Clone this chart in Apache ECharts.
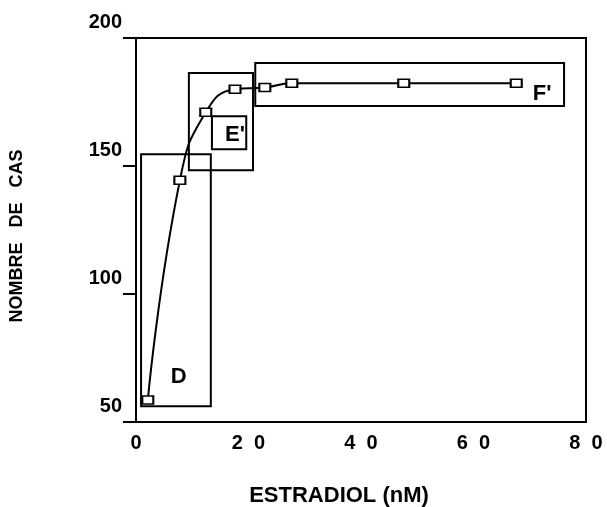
<!DOCTYPE html>
<html>
<head>
<meta charset="utf-8">
<script src="https://cdn.jsdelivr.net/npm/echarts@6/dist/echarts.min.js"></script>
<style>
html,body{margin:0;padding:0;background:#fff;}
#c{width:607px;height:507px;}
</style>
</head>
<body>
<div id="c"></div>
<script>
// ---- data ----
var estradiol = [2.1, 7.8, 12.4, 17.6, 22.9, 27.7, 47.6, 67.6];
var nombreCas = [58.6, 144.4, 171.0, 180.0, 180.7, 182.3, 182.3, 182.3];
var xTicks = [0, 20, 40, 60, 80];
var xTickLabels = ['0', '2  0', '4  0', '6  0', '8  0'];
var yTicks = [50, 100, 150, 200];
var yTickLabels = ['50', '100', '150', '200'];
// boxes: [xMin, yMin, xMax, yMax]
var boxD = [0.9, 56.2, 13.3, 154.6];
var boxEOuter = [9.4, 148.3, 20.8, 186.3];
var boxEInner = [13.5, 156.5, 19.6, 169.4];
var boxF = [21.2, 173.4, 76.1, 190.2];
var boxLabels = ['D', "E'", "F'"];
var boxLabelX = [7.6, 17.6, 72.2];
var boxLabelY = [67.6, 162.0, 178.0];

var FONT = '"Liberation Sans", Arial, Helvetica, sans-serif';
var boxes = [boxD, boxEOuter, boxEInner, boxF];
var points = estradiol.map(function (x, i) { return [x, nombreCas[i]]; });
var labelData = boxLabels.map(function (t, i) { return [boxLabelX[i], boxLabelY[i], t]; });

var chart = echarts.init(document.getElementById('c'));
chart.setOption({
  animation: false,
  backgroundColor: '#fff',
  grid: { left: 136, right: 21, top: 38, bottom: 85, show: true, borderColor: '#000', borderWidth: 2, backgroundColor: 'transparent' },
  xAxis: {
    type: 'value', min: xTicks[0], max: xTicks[xTicks.length - 1], interval: xTicks[1] - xTicks[0],
    splitLine: { show: false },
    axisLine: { show: true, onZero: false, lineStyle: { color: '#000', width: 2 } },
    axisTick: { show: false },
    axisLabel: {
      margin: 11, color: '#000', fontFamily: FONT, fontSize: 20, fontWeight: 'bold',
      formatter: function (v) { var i = xTicks.indexOf(v); return i >= 0 ? xTickLabels[i] : ''; }
    }
  },
  yAxis: {
    type: 'value', min: yTicks[0], max: yTicks[yTicks.length - 1], interval: yTicks[1] - yTicks[0],
    splitLine: { show: false },
    axisLine: { show: true, onZero: false, lineStyle: { color: '#000', width: 2 } },
    axisTick: { show: true, length: 13, lineStyle: { color: '#000', width: 2 } },
    axisLabel: {
      margin: 14, color: '#000', fontFamily: FONT, fontSize: 20, fontWeight: 'bold',
      verticalAlign: 'bottom', padding: [0, 0, 6, 0],
      formatter: function (v) { var i = yTicks.indexOf(v); return i >= 0 ? yTickLabels[i] : ''; }
    }
  },
  graphic: [
    { type: 'text', x: 339, y: 496, style: { text: 'ESTRADIOL (nM)', font: 'bold 22px ' + FONT, fill: '#000', align: 'center', verticalAlign: 'middle' } },
    { type: 'text', x: 17, y: 236, rotation: Math.PI / 2, style: { text: 'NOMBRE   DE   CAS', font: 'bold 18px ' + FONT, fill: '#000', align: 'center', verticalAlign: 'middle' } }
  ],
  series: [
    {
      type: 'custom', z: 1, silent: true,
      data: boxes,
      encode: { x: [0, 2], y: [1, 3] },
      renderItem: function (params, api) {
        var p0 = api.coord([api.value(0), api.value(3)]);
        var p1 = api.coord([api.value(2), api.value(1)]);
        return { type: 'rect', shape: { x: p0[0], y: p0[1], width: p1[0] - p0[0], height: p1[1] - p0[1] },
          style: { fill: 'none', stroke: '#000', lineWidth: 2 } };
      }
    },
    {
      type: 'line', z: 3, data: points, smooth: 0.5,
      symbol: 'rect', symbolSize: [11, 8], showAllSymbol: true,
      lineStyle: { color: '#000', width: 2 },
      itemStyle: { color: '#fff', borderColor: '#000', borderWidth: 1.8 }
    },
    {
      type: 'custom', z: 4, silent: true,
      data: labelData,
      encode: { x: 0, y: 1 },
      renderItem: function (params, api) {
        var p = api.coord([api.value(0), api.value(1)]);
        return { type: 'text', x: p[0], y: p[1],
          style: { text: labelData[params.dataIndex][2], font: 'bold 22px ' + FONT, fill: '#000', align: 'center', verticalAlign: 'middle' } };
      }
    }
  ]
});
</script>
</body>
</html>
